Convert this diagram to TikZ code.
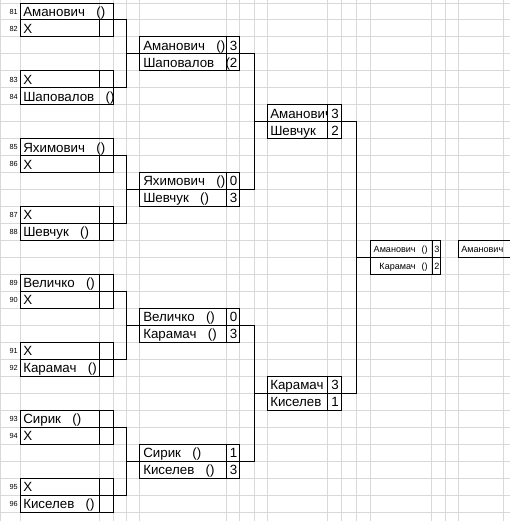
\documentclass[tikz,border=0pt]{standalone}
\usepackage{fontspec}
\setmainfont{Liberation Sans}
\usetikzlibrary{positioning}
\definecolor{gridgray}{HTML}{D9D9D9}
\newcommand{\nm}[2][8.5pt]{#2\hspace{#1}()}

\begin{document}
\begin{tikzpicture}[x=0.75pt, y=-12.7275pt,
    gridln/.style={draw=gridgray, line width=0.75pt},
    rule/.style={draw=black, line width=0.75pt},
    num/.style={anchor=east, inner sep=0pt, text height=4pt, text depth=0pt, font=\fontsize{5.5}{6}\selectfont},
    cell/.style={anchor=west, inner sep=0pt, text height=7.2pt, text depth=0pt, font=\fontsize{10}{12}\selectfont},
    score/.style={cell, anchor=center},
    tiny/.style={cell, text height=4.9pt, font=\fontsize{6.8}{8}\selectfont}]
  \useasboundingbox (0,-0.1768) rectangle (510,30.525);
  % sheet grid
  \foreach \gx in {0.5,21,100,114,127,140,227,240,255,268,328,342,357,371,432,446,459,504}
    \draw[gridln] (\gx,-0.1768) -- (\gx,30.525);
  \foreach \gy in {0,...,30}
    \draw[gridln] (0,\gy) -- (510,\gy);
  % first round, one block of eight rows per pair of matches
  \foreach \b/\na/\nb/\sa/\sb/\ka in {0/Аманович/Шаповалов/0/0/81, 8/Яхимович/Шевчук/0/1/85,
      16/Величко/Карамач/1/1/89, 24/Сирик/Киселев/1/1/93} {
    \pgfmathtruncatemacro{\kb}{\ka+1}
    \pgfmathtruncatemacro{\kc}{\ka+2}
    \pgfmathtruncatemacro{\kd}{\ka+3}
    \draw[rule] (21,\b) rectangle (114,\b+2) (21,\b+4) rectangle (114,\b+6);
    \draw[rule] (100,\b+1) -- (100,\b+2) (100,\b+4) -- (100,\b+5);
    \ifnum\sa=1 \draw[rule] (100,\b) -- (100,\b+1); \fi
    \ifnum\sb=1 \draw[rule] (100,\b+5) -- (100,\b+6); \fi
    \draw[rule] (21,\b+1) -| (127,\b+5) -- (21,\b+5);
    \draw[rule] (127,\b+3) -- (140,\b+3);
    \draw[rule] (140,\b+2) rectangle (240,\b+4) (227,\b+2) -- (227,\b+4) (140,\b+3) -- (255,\b+3);
    \node[num] (n\ka) at (18,\b+.5) {\ka};
    \node[num] (n\kb) at (18,\b+1.5) {\kb};
    \node[num] (n\kc) at (18,\b+4.5) {\kc};
    \node[num] (n\kd) at (18,\b+5.5) {\kd};
    \node[cell] (p\ka) at (23,\b+.5) {\nm{\na}};
    \node[cell] (p\kb) at (23,\b+1.5) {X};
    \node[cell] (p\kc) at (23,\b+4.5) {X};
    \node[cell] (p\kd) at (23,\b+5.5) {\nm{\nb}};
  }
  % second round
  \foreach \r/\t/\s in {2/{\nm{Аманович}}/3, 3/{Шаповалов\hspace{8.5pt}(}/2, 10/{\nm{Яхимович}}/0,
      11/{\nm{Шевчук}}/3, 18/{\nm{Величко}}/0, 19/{\nm{Карамач}}/3, 26/{\nm{Сирик}}/1, 27/{\nm{Киселев}}/3} {
    \node[cell] (q\r) at (143,\r+.5) {\t};
    \node[score] (qs\r) at (233.5,\r+.5) {\s};
  }
  \draw[rule] (255,3) -- (255,11) (255,19) -- (255,27);
  \draw[rule] (255,7) -- (268,7) (255,23) -- (268,23);
  % semifinal
  \draw[rule] (268,6) rectangle (342,8) (328,6) -- (328,8) (268,7) -- (357,7);
  \draw[rule] (268,22) rectangle (342,24) (328,22) -- (328,24) (268,23) -- (357,23);
  \begin{scope}
    \clip (268,6) rectangle (328,7);
    \node[cell] (r6) at (270,6.5) {Аманович};
  \end{scope}
  \node[score] (rs6) at (335,6.5) {3};
  \node[cell] (r7) at (270,7.5) {Шевчук};
  \node[score] (rs7) at (335,7.5) {2};
  \node[cell] (r22) at (270,22.5) {Карамач};
  \node[score] (rs22) at (335,22.5) {3};
  \node[cell] (r23) at (270,23.5) {Киселев};
  \node[score] (rs23) at (335,23.5) {1};
  % final
  \draw[rule] (357,7) -- (357,23) (357,15) -- (371,15);
  \draw[rule] (371,14) rectangle (441,16) (433,14) -- (433,16) (371,15) -- (441,15);
  \draw[rule] (510,14) -| (459,15) -- (510,15);
  \node[tiny, anchor=east] (f14) at (428,14.5) {\nm[4.5pt]{Аманович}};
  \node[tiny, anchor=center] (fs14) at (437,14.5) {3};
  \node[tiny, anchor=east] (f15) at (428,15.5) {\nm[4.5pt]{Карамач}};
  \node[tiny, anchor=center] (fs15) at (437,15.5) {2};
  \node[tiny] (w14) at (461,14.5) {Аманович};
\end{tikzpicture}
\end{document}
